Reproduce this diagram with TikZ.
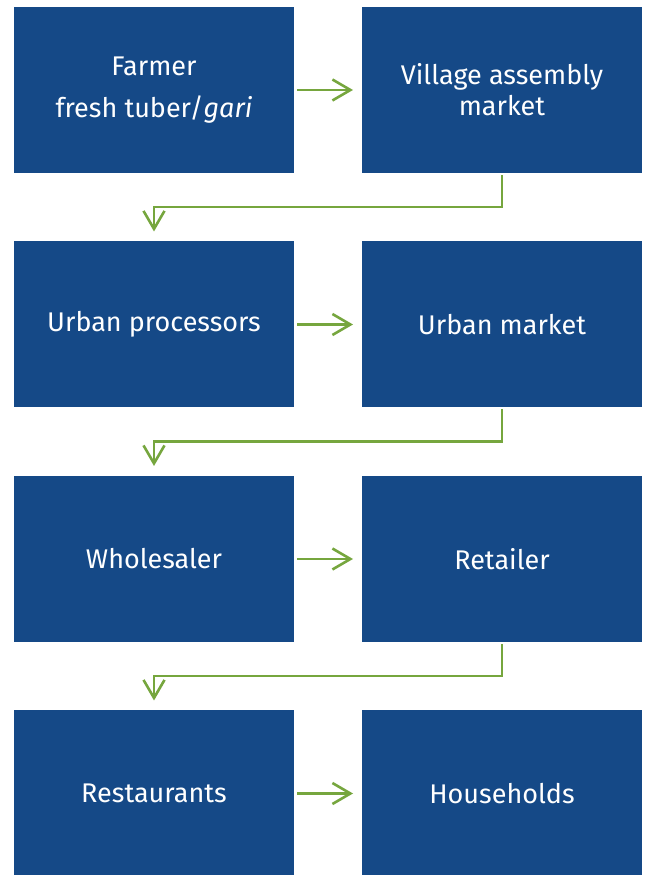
\documentclass[tikz,border=0pt]{standalone}
\usepackage{fontspec}
\setmainfont{Fira Sans}
\usetikzlibrary{positioning,arrows.meta}

\definecolor{chainblue}{RGB}{21,73,135}
\definecolor{chaingreen}{RGB}{118,166,62}

\tikzset{
    actor/.style={fill=chainblue, text=white, minimum width=280pt, minimum height=166pt,
        inner sep=0pt, outer sep=0pt, align=center,
        font=\fontsize{27}{31}\selectfont},
    flow/.style={chaingreen, line width=2.6pt,
        -{Straight Barb[length=18pt,width=21pt,line width=2.6pt]}}
}

\begin{document}
\begin{tikzpicture}
    \useasboundingbox (0,0) rectangle (646pt,875pt);

    % first row
    \node[actor] (farmer) at (154pt,785pt) {Farmer\\[11pt]fresh tuber/\textit{gari}};
    \node[actor, right=68pt of farmer] (village) {Village assembly\\market};

    % second row
    \node[actor, below=68.5pt of farmer] (processors) {Urban processors};
    \node[actor, right=68pt of processors] (urbanmkt) {Urban market};

    % third row
    \node[actor, below=68.5pt of processors] (wholesaler) {Wholesaler};
    \node[actor, right=68pt of wholesaler] (retailer) {Retailer};

    % fourth row
    \node[actor, below=68.5pt of wholesaler] (restaurants) {Restaurants};
    \node[actor, right=68pt of restaurants] (households) {Households};

    % arrows along each row
    \draw[flow] ([xshift=3pt]farmer.east) -- ([xshift=-9pt]village.west);
    \draw[flow] ([xshift=3pt]processors.east) -- ([xshift=-9pt]urbanmkt.west);
    \draw[flow] ([xshift=3pt]wholesaler.east) -- ([xshift=-9pt]retailer.west);
    \draw[flow] ([xshift=3pt]restaurants.east) -- ([xshift=-9pt]households.west);

    % elbows down to the next row
    \draw[flow] ([yshift=-2pt]village.south) -- ++(0,-32pt) -| ([yshift=10pt]processors.north);
    \draw[flow] ([yshift=-2pt]urbanmkt.south) -- ++(0,-32pt) -| ([yshift=10pt]wholesaler.north);
    \draw[flow] ([yshift=-2pt]retailer.south) -- ++(0,-32pt) -| ([yshift=10pt]restaurants.north);
\end{tikzpicture}
\end{document}
